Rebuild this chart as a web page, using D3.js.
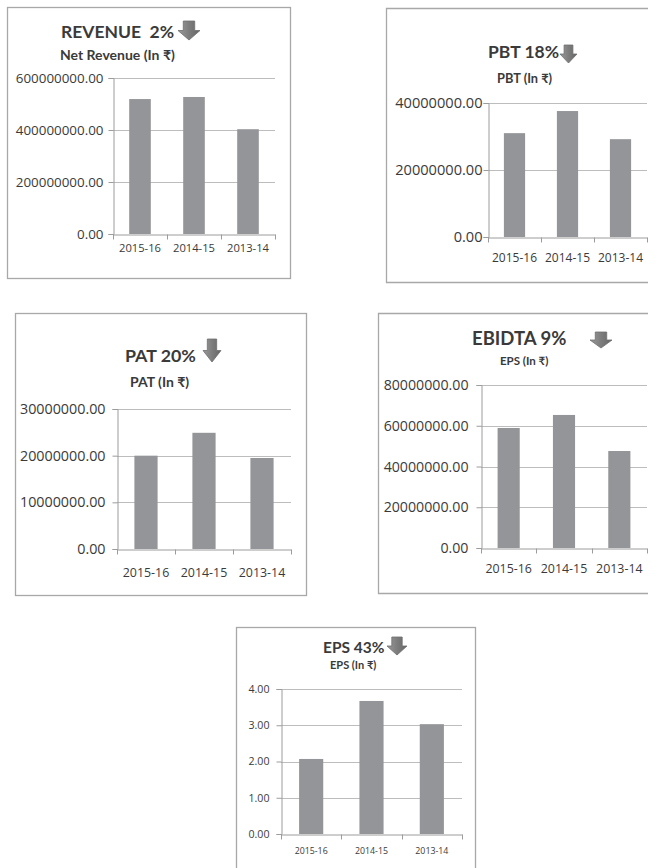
<!DOCTYPE html>
<html>
<head>
<meta charset="utf-8">
<script src="https://cdn.jsdelivr.net/npm/d3@7"></script>
<style>
  body { margin: 0; background: #fff; }
  svg text { font-family: Lato, "Noto Sans", sans-serif; fill: #3a3a3a; white-space: pre; }
  svg .tick text { font-family: "Open Sans", "Noto Sans", sans-serif; }
</style>
</head>
<body>
<div id="chart"></div>
<script>
// chart values
const categories = ["2015-16", "2014-15", "2013-14"];
const revenueValues = [519000000, 527000000, 403000000];
const pbtValues = [31000000, 37600000, 29200000];
const patValues = [20000000, 24900000, 19500000];
const ebidtaValues = [58900000, 65300000, 47600000];
const epsValues = [2.07, 3.67, 3.03];

const revenueTicks = [0, 200000000, 400000000, 600000000];
const pbtTicks = [0, 20000000, 40000000];
const patTicks = [0, 10000000, 20000000, 30000000];
const ebidtaTicks = [0, 20000000, 40000000, 60000000, 80000000];
const epsTicks = [0, 1, 2, 3, 4];

const titles = ["REVENUE  2%", "PBT 18%", "PAT 20%", "EBIDTA 9%", "EPS 43%"];
const subtitles = ["Net Revenue (In \u20B9)", "PBT (In \u20B9)", "PAT (In \u20B9)", "EPS (In \u20B9)", "EPS (In \u20B9)"];

// page layout of each small chart
const panels = [
  {values: revenueValues, ticks: revenueTicks, title: titles[0], sub: subtitles[0],
   box: [7, 7, 290, 278], plot: [113, 275, 78, 234],
   tx: 61, ty: 38, tf: 17.5, sx: 60, sy: 60, sf: 14, arrow: [178, 21, 22, 19],
   yf: 13.4, yPad: 5, xf: 11.2, xDy: 14},
  {values: pbtValues, ticks: pbtTicks, title: titles[1], sub: subtitles[1],
   box: [386, 8, 648, 282], plot: [488, 647, 103, 237], openRight: true,
   tx: 488, ty: 58, tf: 17.5, sx: 497, sy: 83, sf: 12.8, arrow: [560, 45, 17, 18],
   yf: 14.6, yPad: 1, xf: 12, xDy: 20},
  {values: patValues, ticks: patTicks, title: titles[2], sub: subtitles[2],
   box: [15, 313, 306, 595], plot: [117, 291, 409, 549],
   tx: 125, ty: 362, tf: 17.8, sx: 130, sy: 387, sf: 14, arrow: [203, 339, 18, 23],
   yf: 14.3, yPad: 7, xf: 12.4, xDy: 23},
  {values: ebidtaValues, ticks: ebidtaTicks, title: titles[3], sub: subtitles[3],
   box: [378, 313, 648, 593], plot: [481, 647, 385, 548], openRight: true,
   tx: 472, ty: 345, tf: 18.5, sx: 500, sy: 365, sf: 11.5, arrow: [590, 332, 22, 16],
   yf: 14.2, yPad: 8, xf: 12.4, xDy: 20},
  {values: epsValues, ticks: epsTicks, title: titles[4], sub: subtitles[4],
   box: [236, 627, 475, 880], plot: [281, 462, 689, 834],
   tx: 323, ty: 653, tf: 15.5, sx: 330, sy: 669, sf: 11, arrow: [387, 637, 20, 18],
   yf: 10.6, yPad: 7, xf: 8.8, xDy: 17}
];

const W = 656, H = 868;
const svg = d3.select("#chart").append("svg").attr("width", W).attr("height", H);

const defs = svg.append("defs");
const grad = defs.append("linearGradient").attr("id", "arrowGrad")
  .attr("x1", 0).attr("x2", 1).attr("y1", 0).attr("y2", 0);
grad.append("stop").attr("offset", "0%").attr("stop-color", "#9a9a9a");
grad.append("stop").attr("offset", "50%").attr("stop-color", "#7d7d7d");
grad.append("stop").attr("offset", "100%").attr("stop-color", "#666");

panels.forEach(function(p) {
  const g = svg.append("g");
  const [bx0, by0, bx1, by1] = p.box;
  // outer frame
  if (p.openRight) {
    g.append("path")
      .attr("d", "M" + bx1 + "," + (by0 + 0.5) + "H" + (bx0 + 0.5) + "V" + (by1 + 0.5) + "H" + bx1)
      .attr("fill", "none").attr("stroke", "#a8a8a8").attr("stroke-width", 1.3);
  } else {
    g.append("rect")
      .attr("x", bx0 + 0.5).attr("y", by0 + 0.5)
      .attr("width", bx1 - bx0).attr("height", by1 - by0)
      .attr("fill", "none").attr("stroke", "#a8a8a8").attr("stroke-width", 1.3);
  }

  const [l, r, t, b] = p.plot;
  const x = d3.scaleBand().domain(categories).range([l, r])
    .paddingInner(0.6).paddingOuter(0.3);
  const y = d3.scaleLinear().domain([0, d3.max(p.ticks)]).range([b, t]);

  // gridlines
  g.append("g").selectAll("line")
    .data(p.ticks.slice(1))
    .enter().append("line")
    .attr("x1", l).attr("x2", r)
    .attr("y1", d => Math.round(y(d)) + 0.5).attr("y2", d => Math.round(y(d)) + 0.5)
    .attr("stroke", "#bdbdbd").attr("stroke-width", 1.2);

  // bars
  g.append("g").selectAll("rect")
    .data(p.values)
    .enter().append("rect")
    .attr("x", (d, i) => x(categories[i]))
    .attr("y", d => y(d))
    .attr("width", x.bandwidth())
    .attr("height", d => b - y(d))
    .attr("fill", "#949599");

  // y axis
  const yAxis = d3.axisLeft(y).tickValues(p.ticks)
    .tickFormat(d3.format(".2f")).tickSize(5).tickPadding(p.yPad);
  const ya = g.append("g").attr("transform", "translate(" + (l + 0.5) + ",0)").call(yAxis);
  ya.attr("font-family", null);
  ya.select(".domain").attr("stroke", "#9c9c9c");
  ya.selectAll(".tick line").attr("stroke", "#9c9c9c");
  ya.selectAll(".tick text").attr("font-size", p.yf).attr("fill", "#2e2e2e");

  // x axis with ticks between categories
  const xAxis = d3.axisBottom(x).tickSize(0).tickPadding(p.xDy - 4);
  const xa = g.append("g").attr("transform", "translate(0," + (b + 0.5) + ")").call(xAxis);
  xa.attr("font-family", null);
  xa.select(".domain").attr("stroke", "#9c9c9c");
  xa.selectAll(".tick text").attr("font-size", p.xf).attr("fill", "#2e2e2e");
  const step = x.step();
  const edges = [l].concat(categories.map(c => x(c) - step * 0.3 + step));
  xa.selectAll(".sep").data(edges).enter().append("line")
    .attr("x1", d => Math.round(d) + 0.5).attr("x2", d => Math.round(d) + 0.5)
    .attr("y1", 0).attr("y2", 5).attr("stroke", "#9c9c9c");

  // titles
  g.append("text").attr("x", p.tx).attr("y", p.ty)
    .attr("font-size", p.tf).attr("font-weight", "bold").attr("fill", "#1e1e1e")
    .text(p.title);
  g.append("text").attr("x", p.sx).attr("y", p.sy)
    .attr("font-size", p.sf).attr("font-weight", "bold").attr("fill", "#1e1e1e")
    .text(p.sub);

  // down arrow
  const [ax, ay, aw, ah] = p.arrow;
  const sh = aw * 0.26;
  const mid = ax + aw / 2;
  g.append("path")
    .attr("d", "M" + (mid - sh) + "," + ay + "H" + (mid + sh) + "V" + (ay + ah * 0.5) +
      "H" + (ax + aw) + "L" + mid + "," + (ay + ah) + "L" + ax + "," + (ay + ah * 0.5) +
      "H" + (mid - sh) + "Z")
    .attr("fill", "url(#arrowGrad)").attr("stroke", "#6e6e6e").attr("stroke-width", 0.8);
});
</script>
</body>
</html>
